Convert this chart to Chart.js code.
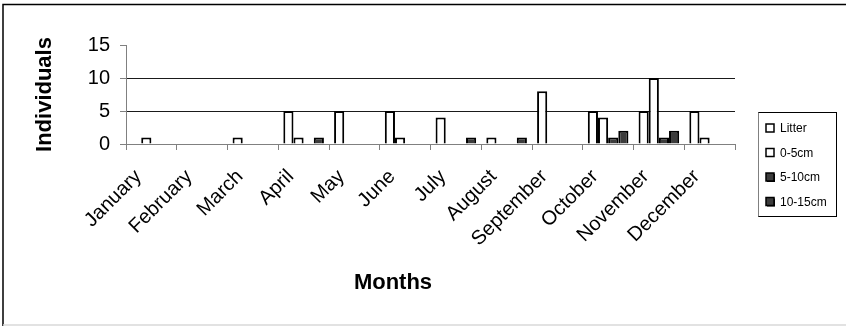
<!DOCTYPE html>
<html>
<head>
<meta charset="utf-8">
<style>
  html, body { margin: 0; padding: 0; background: #fff; }
  #wrap { width: 846px; height: 326px; position: relative; }
  canvas { display: block; }
</style>
<script src="https://cdn.jsdelivr.net/npm/chart.js@4/dist/chart.umd.min.js"></script>
</head>
<body>
<div id="wrap"><canvas id="chart" width="846" height="326"></canvas></div>
<script>
// Monthly counts of individuals by depth layer
const months = ['January', 'February', 'March', 'April', 'May', 'June',
                'July', 'August', 'September', 'October', 'November', 'December'];
const litter  = [0, 0, 1, 5, 5, 5, 4, 1, 8, 5, 5, 5];
const cm0to5  = [1, 0, 0, 1, 0, 1, 0, 0, 0, 4, 10, 1];
const cm5to10 = [0, 0, 0, 0, 0, 0, 0, 0, 0, 1, 1, 0];
const cm10to15 = [0, 0, 0, 1, 0, 0, 1, 1, 0, 2, 2, 0];
const seriesNames = ['Litter', '0-5cm', '5-10cm', '10-15cm'];
const yTicks = [0, 5, 10, 15];

const FONT = 'Arial, "Liberation Sans", sans-serif';
const DARK = '#3c3c3c';

function series(label, data, fill) {
  return {
    label, data,
    backgroundColor: fill,
    borderColor: '#000',
    borderWidth: ctx => (ctx.raw ? 2 : 0),
    borderSkipped: 'start'
  };
}

// Frame, axis titles and the boxed legend
const decorations = {
  id: 'decorations',
  beforeDraw(chart) {
    const c = chart.ctx;
    c.save();
    c.fillStyle = '#fff';
    c.fillRect(0, 0, chart.width, chart.height);
    c.restore();
  },
  afterDraw(chart) {
    const c = chart.ctx;
    const area = chart.chartArea;
    c.save();
    // outer frame
    c.strokeStyle = '#000';
    c.lineWidth = 1.5;
    c.beginPath();
    c.moveTo(3, 326);
    c.lineTo(3, 4.5);
    c.lineTo(846, 4.5);
    c.stroke();
    c.strokeStyle = '#d8d8d8';
    c.lineWidth = 1.5;
    c.beginPath();
    c.moveTo(3, 325);
    c.lineTo(846, 325);
    c.stroke();

    // axis titles
    c.fillStyle = '#000';
    c.font = 'bold 22px ' + FONT;
    c.textAlign = 'center';
    c.textBaseline = 'middle';
    c.fillText('Months', 393, 283);
    c.translate(45, (area.top + area.bottom) / 2);
    c.rotate(-Math.PI / 2);
    c.fillText('Individuals', 0, 0);
    c.restore();

    // legend
    c.save();
    const lx = 758, ly = 112, lw = 78, lh = 104;
    c.strokeStyle = '#000';
    c.lineWidth = 1;
    c.strokeRect(lx + 0.5, ly + 0.5, lw, lh);
    c.strokeStyle = '#808080';
    c.beginPath();
    c.moveTo(lx + 0.5, ly + 0.5);
    c.lineTo(lx + 0.5, ly + lh + 0.5);
    c.stroke();
    c.font = '12px ' + FONT;
    c.textAlign = 'left';
    c.textBaseline = 'middle';
    chart.data.datasets.forEach((ds, i) => {
      const cy = ly + 17 + i * 24.5;
      const mx = lx + 8;
      if (ds.backgroundColor !== '#fff') {
        c.fillStyle = '#000';
        c.fillRect(mx + 1, cy - 4, 8, 8);
      }
      c.fillStyle = ds.backgroundColor;
      c.fillRect(mx, cy - 5, 8, 8);
      c.strokeStyle = '#000';
      c.lineWidth = 1.5;
      c.strokeRect(mx, cy - 5, 8, 8);
      c.fillStyle = '#000';
      c.fillText(ds.label, lx + 22, cy);
    });
    c.restore();
  }
};

new Chart(document.getElementById('chart'), {
  type: 'bar',
  data: {
    labels: months,
    datasets: [
      series(seriesNames[0], litter, '#fff'),
      series(seriesNames[1], cm0to5, '#fff'),
      series(seriesNames[2], cm5to10, DARK),
      series(seriesNames[3], cm10to15, DARK)
    ]
  },
  options: {
    responsive: false,
    animation: false,
    layout: { padding: { left: 0, top: 45, right: 111, bottom: 0 } },
    datasets: { bar: { categoryPercentage: 0.8, barPercentage: 1 } },
    plugins: { legend: { display: false }, tooltip: { enabled: false } },
    scales: {
      x: {
        offset: true,
        grid: {
          offset: true,
          drawOnChartArea: false,
          tickLength: 6,
          tickColor: '#808080',
          tickWidth: 1
        },
        border: { color: '#808080', width: 1 },
        ticks: {
          color: '#000',
          font: { family: FONT, size: 20 },
          minRotation: 45,
          maxRotation: 45,
          padding: 15,
          labelOffset: -13
        },
        afterFit(scale) { scale.height = 326 - 45 - 99; }
      },
      y: {
        min: 0,
        max: 15,
        afterBuildTicks(scale) { scale.ticks = yTicks.map(v => ({ value: v })); },
        grid: {
          color: ctx => (ctx.tick && (ctx.tick.value === 5 || ctx.tick.value === 10) ? '#1a1a1a' : 'rgba(0,0,0,0)'),
          tickColor: '#808080',
          tickLength: 6,
          lineWidth: 1
        },
        border: { color: '#808080', width: 1 },
        ticks: {
          color: '#000',
          font: { family: FONT, size: 20 },
          padding: 10
        },
        afterFit(scale) { scale.width = 126; }
      }
    }
  },
  plugins: [decorations]
});
</script>
</body>
</html>
